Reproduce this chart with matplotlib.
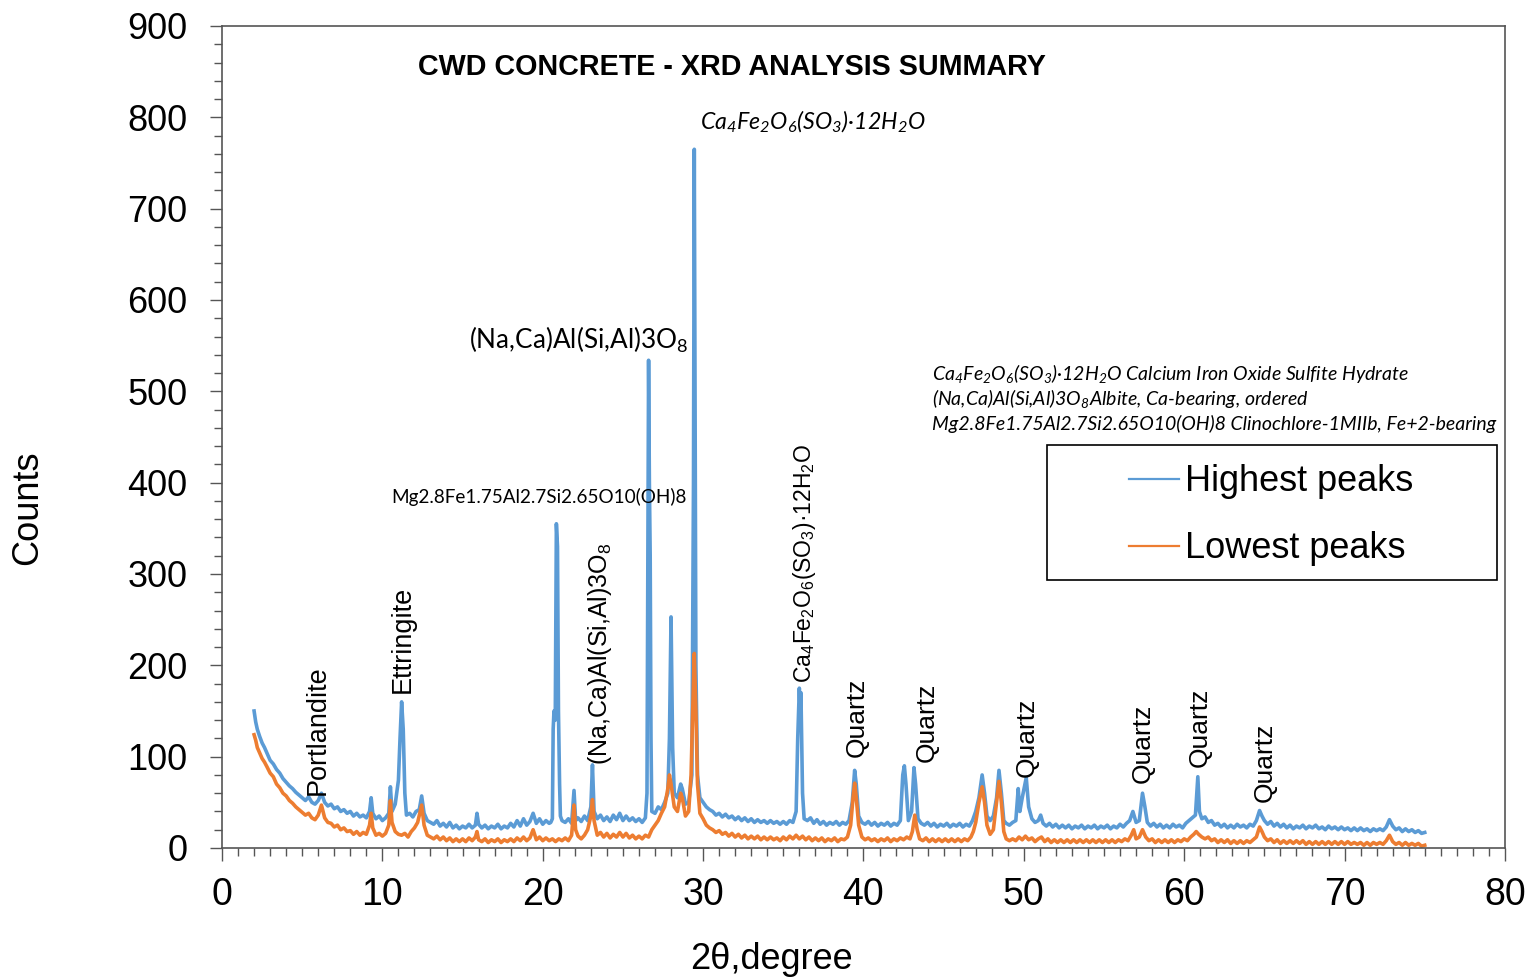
import matplotlib
matplotlib.use("Agg")
import matplotlib.pyplot as plt
from matplotlib.patches import Rectangle
from matplotlib.ticker import MultipleLocator

plt.rcParams['font.family'] = ['Liberation Sans', 'DejaVu Sans']
CALIB = ['Lato', 'DejaVu Sans']

# XRD pattern: (2theta, counts)
blue_pts = [
    (2.0, 150), (2.1, 138), (2.2, 130), (2.35, 122), (2.5, 115), (2.65, 110), (2.8, 104),
    (3.0, 96), (3.2, 92), (3.4, 86), (3.6, 82), (3.8, 76), (4.0, 72), (4.2, 68), (4.4, 65),
    (4.6, 61), (4.8, 58), (5.0, 55), (5.2, 52), (5.4, 56), (5.6, 50), (5.8, 48), (6.0, 52),
    (6.2, 60), (6.4, 50), (6.6, 46), (6.8, 48), (7.0, 43), (7.2, 45), (7.4, 40), (7.6, 42),
    (7.8, 38), (8.0, 40), (8.2, 35), (8.4, 38), (8.6, 34), (8.8, 36), (9.0, 33), (9.2, 40),
    (9.3, 55), (9.4, 38), (9.6, 32), (9.8, 35), (10.0, 30), (10.2, 33), (10.4, 38), (10.5, 67),
    (10.6, 40), (10.8, 48), (11.0, 74), (11.1, 120), (11.2, 160), (11.3, 130), (11.4, 60),
    (11.5, 36), (11.7, 38), (11.9, 34), (12.1, 40), (12.3, 42), (12.45, 57), (12.6, 38),
    (12.8, 30), (13.0, 28), (13.2, 26), (13.4, 30), (13.6, 24), (13.8, 27), (14.0, 23),
    (14.2, 28), (14.4, 22), (14.6, 25), (14.8, 21), (15.0, 24), (15.2, 22), (15.4, 26),
    (15.6, 22), (15.8, 25), (15.9, 38), (16.0, 26), (16.2, 22), (16.4, 25), (16.6, 21),
    (16.8, 24), (17.0, 22), (17.2, 26), (17.4, 21), (17.6, 24), (17.8, 22), (18.0, 27),
    (18.2, 23), (18.4, 30), (18.6, 24), (18.8, 32), (19.0, 25), (19.2, 29), (19.4, 38),
    (19.6, 27), (19.8, 32), (20.0, 26), (20.2, 30), (20.4, 27), (20.5, 28), (20.6, 32),
    (20.65, 130), (20.7, 150), (20.78, 140), (20.85, 355), (20.92, 330), (20.98, 150),
    (21.05, 70), (21.1, 35), (21.2, 30), (21.4, 28), (21.6, 32), (21.8, 27), (21.95, 63),
    (22.05, 30), (22.2, 33), (22.4, 29), (22.6, 35), (22.8, 30), (23.0, 45), (23.1, 91),
    (23.2, 40), (23.4, 32), (23.6, 36), (23.8, 30), (24.0, 34), (24.2, 29), (24.4, 36),
    (24.6, 31), (24.8, 38), (25.0, 30), (25.2, 35), (25.4, 30), (25.6, 33), (25.8, 29),
    (26.0, 32), (26.2, 28), (26.4, 33), (26.5, 60), (26.6, 534), (26.65, 400), (26.7, 320),
    (26.75, 120), (26.8, 40), (27.0, 38), (27.2, 45), (27.4, 42), (27.6, 50), (27.8, 60),
    (27.9, 120), (28.0, 253), (28.1, 110), (28.2, 60), (28.4, 55), (28.6, 70), (28.7, 65),
    (28.9, 48), (29.1, 50), (29.3, 80), (29.4, 400), (29.45, 765), (29.5, 500), (29.55, 200),
    (29.65, 80), (29.8, 55), (30.0, 50), (30.2, 45), (30.4, 42), (30.6, 40), (30.8, 36),
    (31.0, 38), (31.2, 34), (31.4, 37), (31.6, 33), (31.8, 35), (32.0, 31), (32.2, 34),
    (32.4, 30), (32.6, 33), (32.8, 29), (33.0, 32), (33.2, 28), (33.4, 31), (33.6, 28),
    (33.8, 30), (34.0, 27), (34.2, 30), (34.4, 27), (34.6, 29), (34.8, 26), (35.0, 29),
    (35.2, 26), (35.4, 30), (35.6, 28), (35.8, 40), (35.9, 120), (36.0, 175), (36.05, 150),
    (36.1, 170), (36.2, 60), (36.3, 32), (36.5, 30), (36.7, 33), (36.9, 27), (37.1, 31),
    (37.3, 26), (37.5, 29), (37.7, 25), (37.9, 28), (38.1, 26), (38.3, 29), (38.5, 25),
    (38.7, 28), (38.9, 26), (39.1, 30), (39.3, 50), (39.45, 85), (39.55, 70), (39.7, 35),
    (39.9, 28), (40.1, 26), (40.3, 29), (40.5, 25), (40.7, 28), (40.9, 24), (41.1, 27),
    (41.3, 25), (41.5, 28), (41.7, 24), (41.9, 27), (42.1, 25), (42.3, 30), (42.45, 80),
    (42.55, 90), (42.65, 70), (42.8, 30), (43.0, 40), (43.15, 88), (43.25, 70), (43.4, 32),
    (43.6, 27), (43.8, 25), (44.0, 28), (44.2, 24), (44.4, 27), (44.6, 23), (44.8, 26),
    (45.0, 24), (45.2, 27), (45.4, 23), (45.6, 26), (45.8, 24), (46.0, 27), (46.2, 23),
    (46.4, 26), (46.6, 24), (46.8, 30), (47.0, 40), (47.2, 55), (47.4, 80), (47.55, 60),
    (47.7, 35), (47.9, 30), (48.1, 35), (48.3, 55), (48.45, 85), (48.6, 60), (48.75, 30),
    (48.9, 27), (49.1, 25), (49.3, 28), (49.5, 30), (49.65, 65), (49.75, 40), (49.9, 55),
    (50.05, 68), (50.15, 77), (50.3, 45), (50.5, 32), (50.7, 28), (50.9, 30), (51.05, 36),
    (51.2, 27), (51.4, 24), (51.6, 27), (51.8, 23), (52.0, 26), (52.2, 22), (52.4, 25),
    (52.6, 22), (52.8, 25), (53.0, 21), (53.2, 24), (53.4, 22), (53.6, 25), (53.8, 21),
    (54.0, 24), (54.2, 22), (54.4, 25), (54.6, 21), (54.8, 24), (55.0, 22), (55.2, 25),
    (55.4, 21), (55.6, 24), (55.8, 22), (56.0, 26), (56.2, 23), (56.4, 27), (56.6, 30),
    (56.8, 40), (57.0, 28), (57.2, 30), (57.4, 60), (57.55, 45), (57.7, 28), (57.9, 24),
    (58.1, 27), (58.3, 23), (58.5, 26), (58.7, 22), (58.9, 25), (59.1, 22), (59.3, 26),
    (59.5, 23), (59.7, 25), (59.9, 22), (60.1, 27), (60.3, 30), (60.5, 33), (60.7, 36),
    (60.85, 78), (60.95, 40), (61.1, 32), (61.3, 34), (61.5, 28), (61.7, 30), (61.9, 25),
    (62.1, 27), (62.3, 23), (62.5, 26), (62.7, 22), (62.9, 25), (63.1, 22), (63.3, 26),
    (63.5, 23), (63.7, 25), (63.9, 22), (64.1, 26), (64.3, 24), (64.5, 30), (64.7, 41),
    (64.85, 35), (65.0, 30), (65.2, 26), (65.4, 29), (65.6, 24), (65.8, 27), (66.0, 23),
    (66.2, 26), (66.4, 22), (66.6, 25), (66.8, 21), (67.0, 24), (67.2, 22), (67.4, 25),
    (67.6, 21), (67.8, 24), (68.0, 22), (68.2, 25), (68.4, 21), (68.6, 23), (68.8, 20),
    (69.0, 24), (69.2, 21), (69.4, 23), (69.6, 20), (69.8, 23), (70.0, 20), (70.2, 22),
    (70.4, 19), (70.6, 22), (70.8, 19), (71.0, 22), (71.2, 19), (71.4, 21), (71.6, 18),
    (71.8, 21), (72.0, 19), (72.2, 21), (72.4, 19), (72.6, 23), (72.8, 31), (73.0, 24),
    (73.2, 20), (73.4, 22), (73.6, 18), (73.8, 21), (74.0, 18), (74.2, 20), (74.4, 17),
    (74.6, 19), (74.8, 16), (75.0, 17),
]

orange_pts = [
    (2.0, 124), (2.1, 118), (2.2, 110), (2.35, 104), (2.5, 98), (2.65, 94), (2.8, 89),
    (3.0, 82), (3.2, 78), (3.4, 70), (3.6, 66), (3.8, 60), (4.0, 57), (4.2, 52), (4.4, 49),
    (4.6, 45), (4.8, 42), (5.0, 39), (5.2, 36), (5.4, 38), (5.6, 33), (5.8, 31), (6.0, 36),
    (6.2, 47), (6.4, 33), (6.6, 28), (6.8, 27), (7.0, 23), (7.2, 25), (7.4, 20), (7.6, 22),
    (7.8, 18), (8.0, 19), (8.2, 15), (8.4, 18), (8.6, 14), (8.8, 17), (9.0, 15), (9.2, 25),
    (9.3, 38), (9.4, 22), (9.6, 14), (9.8, 16), (10.0, 13), (10.2, 16), (10.4, 25), (10.5, 52),
    (10.6, 28), (10.8, 18), (11.0, 15), (11.2, 14), (11.4, 16), (11.6, 12), (11.8, 18),
    (12.0, 22), (12.2, 28), (12.45, 47), (12.6, 25), (12.8, 14), (13.0, 12), (13.2, 10),
    (13.4, 13), (13.6, 9), (13.8, 12), (14.0, 8), (14.2, 11), (14.4, 7), (14.6, 10),
    (14.8, 7), (15.0, 10), (15.2, 7), (15.4, 11), (15.6, 8), (15.8, 12), (15.9, 18),
    (16.0, 9), (16.2, 7), (16.4, 10), (16.6, 6), (16.8, 9), (17.0, 7), (17.2, 10), (17.4, 6),
    (17.6, 9), (17.8, 7), (18.0, 10), (18.2, 7), (18.4, 11), (18.6, 8), (18.8, 12), (19.0, 8),
    (19.2, 11), (19.4, 20), (19.6, 9), (19.8, 12), (20.0, 8), (20.2, 11), (20.4, 8),
    (20.6, 10), (20.8, 7), (21.0, 10), (21.2, 8), (21.4, 11), (21.6, 8), (21.8, 14),
    (21.95, 47), (22.05, 20), (22.2, 13), (22.4, 10), (22.6, 14), (22.8, 20), (23.0, 35),
    (23.1, 53), (23.2, 30), (23.4, 14), (23.6, 17), (23.8, 12), (24.0, 16), (24.2, 11),
    (24.4, 15), (24.6, 12), (24.8, 17), (25.0, 12), (25.2, 16), (25.4, 11), (25.6, 14),
    (25.8, 10), (26.0, 13), (26.2, 10), (26.4, 14), (26.6, 12), (26.8, 20), (27.0, 25),
    (27.2, 30), (27.4, 38), (27.6, 45), (27.8, 65), (27.9, 80), (28.0, 70), (28.2, 45),
    (28.4, 40), (28.6, 60), (28.7, 55), (28.9, 35), (29.1, 40), (29.25, 80), (29.35, 150),
    (29.45, 213), (29.55, 150), (29.65, 70), (29.8, 38), (30.0, 32), (30.2, 25), (30.4, 22),
    (30.6, 20), (30.8, 17), (31.0, 19), (31.2, 15), (31.4, 17), (31.6, 13), (31.8, 16),
    (32.0, 12), (32.2, 15), (32.4, 11), (32.6, 14), (32.8, 10), (33.0, 13), (33.2, 10),
    (33.4, 13), (33.6, 9), (33.8, 12), (34.0, 9), (34.2, 12), (34.4, 9), (34.6, 11),
    (34.8, 8), (35.0, 12), (35.2, 9), (35.4, 13), (35.6, 10), (35.8, 14), (36.0, 10),
    (36.2, 13), (36.4, 9), (36.6, 12), (36.8, 8), (37.0, 11), (37.2, 8), (37.4, 11),
    (37.6, 7), (37.8, 10), (38.0, 8), (38.2, 11), (38.4, 7), (38.6, 10), (38.8, 9),
    (39.0, 12), (39.2, 25), (39.35, 55), (39.45, 71), (39.55, 55), (39.7, 25), (39.9, 12),
    (40.1, 9), (40.3, 11), (40.5, 8), (40.7, 10), (40.9, 7), (41.1, 10), (41.3, 8),
    (41.5, 11), (41.7, 7), (41.9, 10), (42.1, 8), (42.3, 11), (42.5, 9), (42.7, 12),
    (42.9, 10), (43.05, 18), (43.2, 36), (43.35, 20), (43.5, 10), (43.7, 8), (43.9, 11),
    (44.1, 7), (44.3, 10), (44.5, 7), (44.7, 10), (44.9, 7), (45.1, 10), (45.3, 7),
    (45.5, 10), (45.7, 7), (45.9, 10), (46.1, 7), (46.3, 10), (46.5, 8), (46.7, 12),
    (46.85, 18), (47.0, 28), (47.2, 50), (47.4, 67), (47.55, 50), (47.7, 25), (47.9, 15),
    (48.1, 20), (48.3, 50), (48.45, 73), (48.6, 50), (48.75, 18), (48.9, 10), (49.1, 8),
    (49.3, 10), (49.5, 8), (49.7, 12), (49.9, 9), (50.1, 13), (50.3, 9), (50.5, 11),
    (50.7, 7), (50.9, 10), (51.1, 12), (51.3, 7), (51.5, 10), (51.7, 6), (51.9, 9),
    (52.1, 6), (52.3, 9), (52.5, 6), (52.7, 9), (52.9, 6), (53.1, 9), (53.3, 6), (53.5, 9),
    (53.7, 6), (53.9, 9), (54.1, 6), (54.3, 9), (54.5, 6), (54.7, 9), (54.9, 6), (55.1, 9),
    (55.3, 6), (55.5, 9), (55.7, 6), (55.9, 9), (56.1, 7), (56.3, 10), (56.5, 8), (56.7, 14),
    (56.85, 20), (57.0, 10), (57.2, 12), (57.4, 20), (57.6, 12), (57.8, 8), (58.0, 10),
    (58.2, 6), (58.4, 9), (58.6, 6), (58.8, 9), (59.0, 6), (59.2, 9), (59.4, 6), (59.6, 9),
    (59.8, 7), (60.0, 10), (60.2, 8), (60.4, 12), (60.6, 15), (60.75, 18), (60.9, 15),
    (61.1, 12), (61.3, 10), (61.5, 12), (61.7, 8), (61.9, 10), (62.1, 6), (62.3, 9),
    (62.5, 6), (62.7, 9), (62.9, 5), (63.1, 8), (63.3, 5), (63.5, 8), (63.7, 5), (63.9, 8),
    (64.1, 6), (64.3, 9), (64.5, 12), (64.7, 23), (64.85, 18), (65.0, 12), (65.2, 8),
    (65.4, 10), (65.6, 6), (65.8, 9), (66.0, 5), (66.2, 8), (66.4, 5), (66.6, 8), (66.8, 5),
    (67.0, 8), (67.2, 5), (67.4, 8), (67.6, 4), (67.8, 7), (68.0, 4), (68.2, 7), (68.4, 4),
    (68.6, 7), (68.8, 4), (69.0, 7), (69.2, 4), (69.4, 7), (69.6, 4), (69.8, 7), (70.0, 4),
    (70.2, 7), (70.4, 4), (70.6, 6), (70.8, 4), (71.0, 6), (71.2, 3), (71.4, 6), (71.6, 3),
    (71.8, 6), (72.0, 4), (72.2, 6), (72.4, 4), (72.6, 8), (72.8, 14), (73.0, 7), (73.2, 4),
    (73.4, 6), (73.6, 3), (73.8, 6), (74.0, 3), (74.2, 5), (74.4, 3), (74.6, 5), (74.8, 2),
    (75.0, 3),
]

# vertical phase labels: (2theta, counts at label foot, text, size)
phase_labels = [
    (6.0, 58, 'Portlandite', 19.5),
    (11.3, 170, 'Ettringite', 19.5),
    (23.6, 91, r'(Na,Ca)Al(Si,Al)3O$\mathregular{_8}$', 18),
    (36.35, 181, r'Ca$\mathregular{_4}$Fe$\mathregular{_2}$O$\mathregular{_6}$(SO$\mathregular{_3}$)·12H$\mathregular{_2}$O', 16.5),
    (39.6, 100, 'Quartz', 19),
    (43.95, 94, 'Quartz', 19),
    (50.2, 78, 'Quartz', 19),
    (57.4, 71, 'Quartz', 19),
    (61.0, 89, 'Quartz', 19),
    (65.0, 50, 'Quartz', 19),
]

phase_notes = [
    r'Ca$\mathregular{_4}$Fe$\mathregular{_2}$O$\mathregular{_6}$(SO$\mathregular{_3}$)·12H$\mathregular{_2}$O Calcium Iron Oxide Sulfite Hydrate',
    r'(Na,Ca)Al(Si,Al)3O$\mathregular{_8}$Albite, Ca-bearing, ordered',
    'Mg2.8Fe1.75Al2.7Si2.65O10(OH)8 Clinochlore-1MIIb, Fe+2-bearing',
]

blue_x, blue_y = zip(*blue_pts)
orange_x, orange_y = zip(*orange_pts)

fig = plt.figure(figsize=(15.28, 9.8), dpi=100)
ax = fig.add_axes([0.1453, 0.1347, 0.8396, 0.8388])

ax.plot(blue_x, blue_y, color='#5B9BD5', lw=2.6, label='Highest peaks')
ax.plot(orange_x, orange_y, color='#ED7D31', lw=2.6, label='Lowest peaks')

ax.set_xlim(0, 80)
ax.set_ylim(0, 900)
ax.xaxis.set_major_locator(MultipleLocator(10))
ax.xaxis.set_minor_locator(MultipleLocator(1))
ax.yaxis.set_major_locator(MultipleLocator(100))
ax.yaxis.set_minor_locator(MultipleLocator(20))
ax.tick_params(which='major', direction='out', length=9, width=1, color='#555555')
ax.tick_params(which='minor', direction='out', length=6, width=1, color='#555555')
ax.tick_params(axis='y', labelsize=26, pad=16)
ax.tick_params(axis='x', labelsize=27, pad=12)
for sp in ax.spines.values():
    sp.set_color('#555555')
    sp.set_linewidth(1.2)

ax.set_ylabel('Counts', fontsize=26)
ax.yaxis.set_label_coords(-0.138, 0.4136)
ax.set_xlabel('2θ,degree', fontsize=26)
ax.xaxis.set_label_coords(0.428, -0.114)

ax.text(0.153, 0.950, 'CWD CONCRETE - XRD ANALYSIS SUMMARY', transform=ax.transAxes,
        fontsize=20.7, fontweight='bold', ha='left', va='center')

for x, y, txt, fs in phase_labels:
    ax.text(x, y, txt, rotation=90, ha='center', va='bottom', fontsize=fs)

ax.text(29.8, 795, r'Ca$\mathregular{_4}$Fe$\mathregular{_2}$O$\mathregular{_6}$(SO$\mathregular{_3}$)·12H$\mathregular{_2}$O',
        fontsize=16.7, style='italic', family=CALIB, ha='left', va='center')
ax.text(29.05, 556, r'(Na,Ca)Al(Si,Al)3O$\mathregular{_8}$', fontsize=18.8, family=CALIB,
        ha='right', va='center')
ax.text(29.0, 384, 'Mg2.8Fe1.75Al2.7Si2.65O10(OH)8', fontsize=13.6, family=CALIB,
        ha='right', va='center')

for i, note in enumerate(phase_notes):
    ax.text(44.3, 520 - i * 28, note, fontsize=14, style='italic', family=CALIB,
            ha='left', va='center')

ax.add_patch(Rectangle((0.643, 0.326), 0.3507, 0.164, transform=ax.transAxes,
                       fill=False, edgecolor='black', lw=1.2, zorder=5))
leg = ax.legend(loc='upper left', bbox_to_anchor=(0.6983, 0.480), frameon=False,
                fontsize=26, handlelength=1.4, handletextpad=0.15, labelspacing=0.89,
                borderpad=0.3, borderaxespad=0)
for h in leg.get_lines():
    h.set_linewidth(1.6)

fig.savefig('out.png', dpi=100)
